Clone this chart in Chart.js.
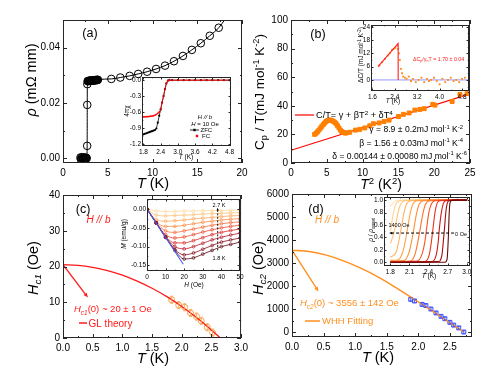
<!DOCTYPE html>
<html>
<head>
<meta charset="utf-8">
<title>Superconducting properties</title>
<script src="https://cdn.jsdelivr.net/npm/chart.js@4.4.1/dist/chart.umd.min.js"></script>
<style>
  body { margin: 0; background: #fff; }
  #fig { position: relative; width: 491px; height: 379px; overflow: hidden; background: #fff; }
  #fig div { position: absolute; }
</style>
</head>
<body>
<div id="fig"></div>
<script>
// ---------- (a) resistivity ----------
const rhoT = [1.95, 2.0, 2.05, 2.1, 2.15, 2.2, 2.25, 2.3, 2.35, 2.4, 2.45, 2.5, 2.55, 2.6, 2.65,
  2.7, 2.71, 2.72,
  2.75, 2.8, 2.85, 2.9, 2.95, 3.0, 3.05, 3.1, 3.15, 3.2, 3.25, 3.3, 3.35, 3.4, 3.45, 3.5, 3.55, 3.6, 3.65, 3.7, 3.75, 3.8, 3.85, 3.9,
  5.4, 6.4, 7.45, 8.4, 9.4, 10.4, 11.4, 12.4, 13.4, 14.4, 15.4, 16.4, 17.4];
const rhoV = [0.0003, -0.0004, 0.0002, -0.0003, 0.0004, -0.0002, 0.0001, -0.0004, 0.0003, -0.0001, 0.0002, -0.0003, 0.0001, 0.0002, 0.0,
  0.0045, 0.0193, 0.0268,
  0.0279, 0.0279, 0.028, 0.028, 0.028, 0.028, 0.028, 0.0281, 0.0281, 0.0281, 0.0281, 0.0281, 0.0282, 0.0282, 0.0282, 0.0282, 0.0282, 0.0282, 0.0283, 0.0283, 0.0283, 0.0283, 0.0283, 0.0284,
  0.0287, 0.0292, 0.0298, 0.0305, 0.0313, 0.0323, 0.0335, 0.0351, 0.037, 0.0392, 0.0416, 0.0443, 0.0472];
const rhoLineEndT = 18.1;
const rhoLineEndV = 0.0502;
const rhoTicksX = [0, 5, 10, 15, 20];
const rhoTicksY = [0, 0.02, 0.04];

// (a) inset: susceptibility
const chiT = [1.8, 1.85, 1.9, 1.95, 2.0, 2.05, 2.1, 2.15, 2.2, 2.25, 2.3, 2.35, 2.4, 2.45, 2.5, 2.55, 2.6, 2.65, 2.7,
  2.8, 3.0, 3.2, 3.4, 3.6, 3.8, 4.0, 4.2, 4.4, 4.6, 4.8];
const chiZfc = [-1.02, -1.01, -1.0, -0.99, -0.98, -0.97, -0.96, -0.95, -0.94, -0.91, -0.8, -0.67, -0.55, -0.42, -0.3, -0.17, -0.06, -0.01, 0,
  0, 0, 0, 0, 0, 0, 0, 0, 0, 0, 0];
const chiFc = [-0.69, -0.69, -0.688, -0.686, -0.684, -0.68, -0.675, -0.67, -0.66, -0.645, -0.625, -0.6, -0.55, -0.42, -0.3, -0.17, -0.06, -0.01, 0,
  0, 0, 0, 0, 0, 0, 0, 0, 0, 0, 0];
const chiTicksX = [1.8, 2.4, 3.0, 3.6, 4.2, 4.8];
const chiTicksY = [-1.2, -0.9, -0.6, -0.3, 0.0];

// ---------- (b) specific heat ----------
const cpT2 = [3.3, 3.5, 3.7, 3.9, 4.1, 4.3, 4.5, 4.7, 4.9, 5.1, 5.3, 5.5, 5.7, 5.9, 6.1, 6.3, 6.5, 6.7, 6.9, 7.1, 7.3, 7.5, 7.7,
  8.2, 9.0, 9.6, 10.3, 11.0, 11.5, 12.3, 13.0, 13.7, 15.0, 15.7, 16.5, 17.3, 18.0, 18.6, 19.8, 20.1, 22.5, 23.6, 24.6];
const cpV = [20, 20.8, 21.8, 23, 24.3, 25.6, 26.8, 28, 29, 29.7, 30, 30, 29.7, 29.2, 28.5, 27.5, 26, 24.5, 23, 22, 21.3, 21, 21,
  21.5, 23, 23.5, 24.5, 26, 27.5, 28, 29, 30, 32.5, 34, 35, 37, 37.5, 38, 41, 40.5, 43, 48, 48.5];
const cpFitT2 = [0, 25];
const cpFitV = [8.9, 48.3];
const cpTicksX = [0, 5, 10, 15, 20, 25];
const cpTicksY = [0, 20, 40, 60, 80, 100];

// (b) inset: electronic jump
const dcT = [1.85, 1.95, 2.05, 2.15, 2.22, 2.3, 2.36, 2.42, 2.48, 2.52, 2.55, 2.58, 2.62, 2.66, 2.7, 2.76, 2.82, 2.9, 2.98, 3.05,
  3.15, 3.25, 3.35, 3.45, 3.55, 3.62, 3.7, 3.8, 3.9, 4.0, 4.1, 4.2, 4.3, 4.4, 4.5, 4.6, 4.7, 4.8, 4.9];
const dcV = [6.5, 8, 9.5, 11, 12, 13.5, 14, 14.5, 15.5, 14, 12, 9, 5, 3, 1.5, 1, 0.5, 1.5, -0.5, 0.5,
  -1, 0, 1, -1, 0.5, -0.5, 0, 1, -0.5, -2, 0.5, -1, 0, 1, -0.5, 0, -1, 0.5, 1];
const dcFitT = [1.8, 2.52, 2.52];
const dcFitV = [6, 16.5, 0];
const dcZeroT = [1.55, 5.05];
const dcZeroV = [0, 0];
const dcTicksX = [1.6, 2.4, 3.2, 4.0, 4.8];
const dcTicksY = [0, 6, 12, 18, 24];

// ---------- (c) lower critical field ----------
const glT = [0, 0.25, 0.5, 0.75, 1.0, 1.25, 1.5, 1.75, 2.0, 2.25, 2.5, 2.65];
const glV = [20.5, 20.32, 19.77, 18.86, 17.58, 15.93, 13.93, 11.56, 8.82, 5.72, 2.26, 0];
const hc1T = [1.83, 1.95, 2.05, 2.15, 2.25, 2.33, 2.43, 2.52];
const hc1V = [10.7, 9.2, 8.6, 7.0, 6.0, 4.8, 3.0, 1.5];
const hc1E = [1, 1, 1, 1, 1, 1, 1, 1];
const hc1TicksX = [0, 0.5, 1.0, 1.5, 2.0, 2.5, 3.0];
const hc1TicksY = [0, 10, 20, 30, 40];

// (c) inset: M(H) isotherms 1.8 K ... 2.7 K
const mH = [0, 5, 10, 15, 20, 25, 30, 35, 40, 45, 50];
const mCurves = [
  [0, -0.037, -0.075, -0.11, -0.133, -0.13, -0.12, -0.11, -0.1, -0.094, -0.088],
  [0, -0.037, -0.075, -0.108, -0.122, -0.117, -0.107, -0.097, -0.088, -0.082, -0.077],
  [0, -0.037, -0.075, -0.1, -0.106, -0.1, -0.091, -0.082, -0.075, -0.069, -0.064],
  [0, -0.037, -0.073, -0.09, -0.09, -0.084, -0.076, -0.068, -0.062, -0.057, -0.053],
  [0, -0.037, -0.068, -0.077, -0.074, -0.068, -0.061, -0.055, -0.05, -0.046, -0.043],
  [0, -0.036, -0.058, -0.062, -0.058, -0.053, -0.048, -0.043, -0.039, -0.036, -0.034],
  [0, -0.034, -0.046, -0.046, -0.043, -0.039, -0.035, -0.032, -0.029, -0.027, -0.025],
  [0, -0.028, -0.032, -0.031, -0.029, -0.026, -0.024, -0.022, -0.02, -0.018, -0.017],
  [0, -0.016, -0.018, -0.017, -0.016, -0.015, -0.013, -0.012, -0.011, -0.01, -0.009],
  [0, -0.005, -0.006, -0.006, -0.005, -0.005, -0.004, -0.004, -0.004, -0.003, -0.003]
];
const mColors = ['#5c0a18', '#8a1020', '#b8182a', '#dc2a2a', '#ef4a30', '#f86c3a', '#fb8c46', '#fca85a', '#fdc276', '#fddba2'];
const mLineH = [0, 19.5];
const mLineV = [0, -0.147];
const mTicksX = [0, 10, 20, 30, 40, 50];
const mTicksY = [-0.15, -0.10, -0.05, 0.00];

// ---------- (d) upper critical field ----------
const whhT = [0, 0.272, 0.544, 0.816, 1.088, 1.36, 1.632, 1.904, 2.176, 2.448, 2.72];
const whhV = [3556, 3503, 3343, 3094, 2774, 2400, 1956, 1476, 996, 498, 0];
const hc2T = [1.88, 1.94, 2.06, 2.12, 2.2, 2.28, 2.36, 2.42, 2.5, 2.56, 2.64, 2.72];
const hc2V = [1420, 1350, 1200, 1150, 1000, 830, 680, 580, 420, 300, 180, 0];
const hc2E = [60, 60, 60, 60, 60, 60, 60, 60, 60, 60, 60, 60];
const hc2TicksX = [0, 0.5, 1.0, 1.5, 2.0, 2.5];
const hc2TicksY = [0, 1000, 2000, 3000, 4000, 5000, 6000];

// (d) inset: rho/rho_onset(T), 1400 Oe ... 0 Oe
const rcT = [
  [1.8, 1.87, 1.95, 3.0],
  [1.8, 1.84, 1.88, 1.95, 2.1, 3.0],
  [1.8, 1.84, 1.88, 1.92, 1.96, 2.03, 2.2, 3.0],
  [1.8, 1.89, 1.93, 1.97, 2.01, 2.05, 2.12, 2.3, 3.0],
  [1.8, 1.92, 1.99, 2.03, 2.07, 2.11, 2.15, 2.22, 2.4, 3.0],
  [1.8, 2.02, 2.09, 2.13, 2.17, 2.21, 2.25, 2.32, 2.5, 3.0],
  [1.8, 2.12, 2.19, 2.23, 2.27, 2.31, 2.35, 2.42, 2.6, 3.0],
  [1.8, 2.22, 2.3, 2.34, 2.37, 2.4, 2.44, 2.5, 2.7, 3.0],
  [1.8, 2.34, 2.41, 2.44, 2.47, 2.5, 2.53, 2.58, 2.75, 3.0],
  [1.8, 2.45, 2.52, 2.55, 2.57, 2.6, 2.63, 2.67, 2.8, 3.0],
  [1.8, 2.55, 2.61, 2.63, 2.65, 2.67, 2.69, 2.72, 2.85, 3.0],
  [1.8, 2.66, 2.69, 2.71, 2.72, 2.73, 2.75, 2.8, 3.0]
];
const rcR = [
  [0.9, 0.98, 1.0, 1.0],
  [0.5, 0.75, 0.92, 0.99, 1.0, 1.0],
  [0.3, 0.42, 0.58, 0.8, 0.93, 0.99, 1.0, 1.0],
  [0.08, 0.16, 0.33, 0.55, 0.78, 0.93, 0.99, 1.0, 1.0],
  [0.03, 0.04, 0.15, 0.32, 0.55, 0.78, 0.93, 0.99, 1.0, 1.0],
  [0.02, 0.03, 0.15, 0.32, 0.55, 0.78, 0.93, 0.99, 1.0, 1.0],
  [0.01, 0.02, 0.14, 0.32, 0.55, 0.78, 0.93, 0.99, 1.0, 1.0],
  [0.01, 0.02, 0.14, 0.32, 0.55, 0.78, 0.93, 0.99, 1.0, 1.0],
  [0, 0.01, 0.12, 0.3, 0.55, 0.8, 0.94, 0.99, 1.0, 1.0],
  [0, 0.01, 0.12, 0.32, 0.55, 0.8, 0.94, 0.99, 1.0, 1.0],
  [0, 0.01, 0.12, 0.32, 0.55, 0.8, 0.94, 0.99, 1.0, 1.0],
  [0, 0, 0.05, 0.4, 0.7, 0.9, 0.99, 1.0, 1.0]
];
const rcColors = ['#ffe2b4', '#ffd396', '#ffc479', '#ffb45e', '#ffa248', '#ff8e36', '#ff7426', '#f85422', '#e8361e', '#d01c18', '#a80c0c', '#640808'];
const rcTicksX = [1.8, 2.1, 2.4, 2.7, 3.0];
const rcTicksY = [0, 0.2, 0.4, 0.6, 0.8, 1.0];

// ---------- helpers ----------
const FF = '"Liberation Sans", Arial, Helvetica, sans-serif';
Chart.defaults.font.family = FF;
Chart.defaults.color = '#000';

const pts = (xs, ys) => xs.map((x, i) => ({ x: x, y: ys[i] }));

// tiny markup: *italic*, _{sub}, ^{sup}
function rich(s) {
  const out = [];
  let cur = '', it = false, i = 0;
  const push = () => { if (cur) out.push([cur, it ? 'i' : '']); cur = ''; };
  while (i < s.length) {
    const c = s[i];
    if ((c === '_' || c === '^') && s[i + 1] === '{') {
      push();
      const j = s.indexOf('}', i);
      out.push([s.slice(i + 2, j), (c === '_' ? 'b' : 'p') + (it ? 'i' : '')]);
      i = j + 1;
      continue;
    }
    if (c === '*') { push(); it = !it; i++; continue; }
    cur += c; i++;
  }
  push();
  return out;
}

function drawText(ctx, n) {
  const size = n.s || 10, parts = rich(n.t);
  const font = f => (f.includes('i') ? 'italic ' : '') + (/[bp]/.test(f) ? size * 0.68 : size) + 'px ' + FF;
  let w = 0;
  parts.forEach(p => { ctx.font = font(p[1]); w += ctx.measureText(p[0]).width; });
  ctx.save();
  ctx.translate(n.x, n.y);
  if (n.r) ctx.rotate(n.r * Math.PI / 180);
  let x = n.a === 'l' ? 0 : n.a === 'r' ? -w : -w / 2;
  ctx.fillStyle = n.c || '#000';
  ctx.textBaseline = 'alphabetic';
  parts.forEach(p => {
    ctx.font = font(p[1]);
    const dy = p[1].includes('b') ? size * 0.22 : p[1].includes('p') ? -size * 0.38 : 0;
    ctx.fillText(p[0], x, size * 0.36 + dy);
    x += ctx.measureText(p[0]).width;
  });
  ctx.restore();
}

function deco(o) {
  return {
    id: 'deco',
    beforeDraw(chart) {
      if (!o.inset) return;
      const a = chart.chartArea, ctx = chart.ctx;
      ctx.save();
      ctx.fillStyle = '#fff';
      ctx.fillRect(a.left, a.top, a.right - a.left, a.bottom - a.top);
      ctx.restore();
    },
    afterDatasetsDraw(chart) {
      const ctx = chart.ctx, sx = chart.scales.x, sy = chart.scales.y, a = chart.chartArea;
      ctx.save();
      ctx.beginPath();
      ctx.rect(a.left, a.top, a.right - a.left, a.bottom - a.top);
      ctx.clip();
      (o.err || []).forEach(e => {
        ctx.strokeStyle = e.c;
        ctx.lineWidth = 0.8;
        e.x.forEach((xv, i) => {
          const px = sx.getPixelForValue(xv);
          const p1 = sy.getPixelForValue(e.y[i] - e.e[i]), p2 = sy.getPixelForValue(e.y[i] + e.e[i]);
          ctx.beginPath();
          ctx.moveTo(px, p1); ctx.lineTo(px, p2);
          ctx.moveTo(px - 1.5, p1); ctx.lineTo(px + 1.5, p1);
          ctx.moveTo(px - 1.5, p2); ctx.lineTo(px + 1.5, p2);
          ctx.stroke();
        });
      });
      (o.arrows || []).forEach(r => {
        const x1 = sx.getPixelForValue(r.x1), y1 = sy.getPixelForValue(r.y1);
        const x2 = sx.getPixelForValue(r.x2), y2 = sy.getPixelForValue(r.y2);
        const ang = Math.atan2(y2 - y1, x2 - x1), h = r.h || 5;
        ctx.strokeStyle = r.c; ctx.fillStyle = r.c; ctx.lineWidth = r.lw || 1.2;
        ctx.setLineDash(r.dash || []);
        ctx.beginPath();
        ctx.moveTo(x1, y1);
        ctx.lineTo(x2 - Math.cos(ang) * h * 0.8, y2 - Math.sin(ang) * h * 0.8);
        ctx.stroke();
        ctx.setLineDash([]);
        ctx.beginPath();
        ctx.moveTo(x2, y2);
        ctx.lineTo(x2 - h * Math.cos(ang - 0.4), y2 - h * Math.sin(ang - 0.4));
        ctx.lineTo(x2 - h * Math.cos(ang + 0.4), y2 - h * Math.sin(ang + 0.4));
        ctx.closePath();
        ctx.fill();
      });
      ctx.restore();
    },
    afterDraw(chart) {
      const ctx = chart.ctx, a = chart.chartArea;
      ctx.save();
      // frame with inward major + minor ticks
      ctx.strokeStyle = '#262626';
      ctx.lineWidth = 1;
      ctx.strokeRect(a.left + 0.5, a.top + 0.5, a.right - a.left - 1, a.bottom - a.top - 1);
      const L = o.inset ? 2.5 : 4;
      ['x', 'y'].forEach(k => {
        const sc = chart.scales[k];
        const major = sc.ticks.map(t => t.value);
        const step = major[1] - major[0];
        const minor = [];
        for (let v = major[0] - step / 2; v <= sc.max + 1e-9; v += step) if (v >= sc.min - 1e-9) minor.push(v);
        [[major, L], [minor, L / 2]].forEach(([vals, len]) => {
          vals.forEach(v => {
            const p = Math.round(sc.getPixelForValue(v)) + 0.5;
            ctx.beginPath();
            if (k === 'x') {
              ctx.moveTo(p, a.bottom); ctx.lineTo(p, a.bottom - len);
              ctx.moveTo(p, a.top); ctx.lineTo(p, a.top + len);
            } else {
              ctx.moveTo(a.left, p); ctx.lineTo(a.left + len, p);
              ctx.moveTo(a.right, p); ctx.lineTo(a.right - len, p);
            }
            ctx.stroke();
          });
        });
      });
      // texts and legend samples, given in page coordinates
      ctx.translate(-o.box[0], -o.box[1]);
      (o.notes || []).forEach(n => {
        if (n.line) {
          ctx.strokeStyle = n.c; ctx.lineWidth = n.lw || 1.5;
          ctx.beginPath(); ctx.moveTo(n.line[0], n.line[1]); ctx.lineTo(n.line[2], n.line[3]); ctx.stroke();
        }
        if (n.dot) {
          ctx.fillStyle = n.c;
          ctx.fillRect(n.dot[0] - 1.2, n.dot[1] - 1.2, 2.4, 2.4);
        }
        if (n.t) drawText(ctx, n);
      });
      ctx.restore();
    }
  };
}

function axis(min, max, ticks, dec, fix, font, pad) {
  return {
    type: 'linear', min: min, max: max,
    afterBuildTicks: s => { s.ticks = ticks.map(v => ({ value: v })); },
    afterFit: s => { if (s.isHorizontal()) s.height = fix; else s.width = fix; },
    grid: { display: false, drawTicks: false },
    border: { display: false },
    ticks: { autoSkip: false, maxRotation: 0, padding: pad, font: { size: font }, color: '#000',
      callback: v => Number(v).toFixed(dec) }
  };
}

function panel(o) {
  const [bl, bt, bw, bh] = o.box, [al, at, ar, ab] = o.area;
  const div = document.createElement('div');
  div.style.left = bl + 'px'; div.style.top = bt + 'px';
  div.style.width = bw + 'px'; div.style.height = bh + 'px';
  const cv = document.createElement('canvas');
  cv.width = bw; cv.height = bh;
  div.appendChild(cv);
  document.getElementById('fig').appendChild(div);
  const tf = o.inset ? 6.5 : 10, tp = o.inset ? 2 : 4;
  return new Chart(cv, {
    type: 'scatter',
    data: { datasets: o.datasets },
    options: {
      responsive: false, animation: false, events: [],
      layout: { padding: { left: 0, top: at - bt, right: bl + bw - ar, bottom: 0 } },
      plugins: { legend: { display: false }, tooltip: { enabled: false } },
      scales: {
        x: axis(o.x[0], o.x[1], o.x[2], o.x[3], bt + bh - ab, tf, tp),
        y: axis(o.y[0], o.y[1], o.y[2], o.y[3], al - bl, tf, tp - 1)
      }
    },
    plugins: [deco(o)]
  });
}

const line = (xs, ys, c, w, extra) => Object.assign({ data: pts(xs, ys), showLine: true, borderColor: c, borderWidth: w,
  pointRadius: 0, clip: 0 }, extra || {});
const marks = (xs, ys, c, style, r, fill, extra) => Object.assign({ data: pts(xs, ys), showLine: false, pointStyle: style,
  pointRadius: r, pointBorderColor: c, pointBackgroundColor: fill, pointBorderWidth: 1, clip: 0 }, extra || {});

// ---------- main panels ----------
panel({
  box: [0, 0, 252, 192], area: [63, 20, 242, 163],
  x: [0, 20, rhoTicksX, 0], y: [-0.0017, 0.05, rhoTicksY, 2],
  datasets: [
    marks(rhoT, rhoV, '#000', 'circle', 3.8, 'rgba(0,0,0,0)'),
    line(rhoT.concat([rhoLineEndT]), rhoV.concat([rhoLineEndV]), '#000', 1, { cubicInterpolationMode: 'monotone' })
  ],
  notes: [
    { t: '*ρ* (mΩ mm)', x: 31, y: 80, s: 14.5, r: -90 },
    { t: '*T* (K)', x: 153, y: 183, s: 14.5 },
    { t: '(a)', x: 90, y: 32, s: 12.5 }
  ]
});

panel({
  box: [245, 0, 246, 192], area: [291, 20, 470, 163],
  x: [0, 25, cpTicksX, 0], y: [0, 100, cpTicksY, 0],
  datasets: [
    marks(cpT2, cpV, '#ff8000', 'rect', 2.8, '#ff8000'),
    line(cpFitT2, cpFitV, '#ff0000', 1.2)
  ],
  notes: [
    { t: 'C_{p} / T(mJ mol^{-1} K^{-2})', x: 259, y: 92, s: 13.5, r: -90 },
    { t: '*T*^{2} (K^{2})', x: 381, y: 184, s: 14 },
    { t: '(b)', x: 318, y: 33, s: 12.5 },
    { line: [295, 115, 314, 115], c: '#ff0000', lw: 1.2 },
    { t: 'C/T= γ + βT^{2} + δT^{4}', x: 316, y: 115, s: 9.2, a: 'l' },
    { t: 'γ = 8.9 ± 0.2mJ mol^{-1} K^{-2}', x: 463, y: 129, s: 8.6, a: 'r' },
    { t: 'β = 1.56 ± 0.03mJ mol^{-1} K^{-4}', x: 463, y: 142.5, s: 8.6, a: 'r' },
    { t: 'δ = 0.00144 ± 0.00080 mJ mol^{-1} K^{-6}', x: 467, y: 155.5, s: 8.6, a: 'r' }
  ]
});

panel({
  box: [0, 185, 252, 194], area: [63, 195, 243, 338],
  x: [0, 3, hc1TicksX, 1], y: [0, 40, hc1TicksY, 0],
  datasets: [
    line(glT, glV, '#ff1a1a', 1.3, { cubicInterpolationMode: 'monotone' }),
    marks(hc1T, hc1V, '#f5a54a', 'circle', 3, 'rgba(0,0,0,0)')
  ],
  err: [{ x: hc1T, y: hc1V, e: hc1E, c: '#f5a54a' }],
  arrows: [{ x1: 0, y1: 20.5, x2: 0.42, y2: 11.3, c: '#ff1a1a', lw: 1.3, h: 5 }],
  notes: [
    { t: '*H_{c1}* (Oe)', x: 33, y: 268, s: 14.5, r: -90 },
    { t: '*T* (K)', x: 153, y: 358, s: 14.5 },
    { t: '(c)', x: 83, y: 208, s: 12.5 },
    { t: '*H // b*', x: 98.5, y: 219, s: 10, c: '#ff1a1a' },
    { t: '*H_{c1}*(0) ~ 20 ± 1 Oe', x: 74, y: 309, s: 9.5, a: 'l', c: '#ff1a1a' },
    { line: [79, 323, 87, 323], c: '#ff1a1a', lw: 1.5 },
    { t: 'GL theory', x: 88.5, y: 323, s: 10, a: 'l', c: '#ff1a1a' }
  ]
});

panel({
  box: [245, 185, 246, 194], area: [292, 193, 472, 337],
  x: [0, 2.85, hc2TicksX, 1], y: [-216, 6000, hc2TicksY, 0],
  datasets: [
    line(whhT, whhV, '#ff8f1f', 1.4, { cubicInterpolationMode: 'monotone' }),
    marks(hc2T, hc2V, '#3a4cff', 'rect', 2.8, 'rgba(0,0,0,0)')
  ],
  err: [{ x: hc2T, y: hc2V, e: hc2E, c: '#3a4cff' }],
  arrows: [{ x1: 0, y1: 3556, x2: 0.42, y2: 1760, c: '#ff8f1f', lw: 1.3, h: 5 }],
  notes: [
    { t: '*H_{c2}* (Oe)', x: 258, y: 268, s: 14.5, r: -90 },
    { t: '*T* (K)', x: 378, y: 357, s: 14.5 },
    { t: '(d)', x: 316, y: 208, s: 12.5 },
    { t: '*H // b*', x: 327, y: 219, s: 10, c: '#ff8f1f' },
    { t: '*H_{c2}*(0) ~ 3556 ± 142 Oe', x: 300, y: 303, s: 9.5, a: 'l', c: '#ff8f1f' },
    { line: [305, 321, 320, 321], c: '#ff8f1f', lw: 1.5 },
    { t: 'WHH Fitting', x: 322, y: 321, s: 9.5, a: 'l', c: '#ff8f1f' }
  ]
});

// ---------- insets ----------
panel({
  inset: true,
  box: [95, 68, 146, 105], area: [142, 77, 231, 146],
  x: [1.75, 4.85, chiTicksX, 1], y: [-1.24, 0.06, chiTicksY, 1],
  datasets: [
    line(chiT, chiFc, '#ff0000', 0.8, { pointRadius: 1.1, pointStyle: 'rect', pointBackgroundColor: '#ff0000', pointBorderColor: '#ff0000', pointBorderWidth: 0 }),
    line(chiT, chiZfc, '#000', 0.8, { pointRadius: 1.1, pointBackgroundColor: '#000', pointBorderColor: '#000', pointBorderWidth: 0 })
  ],
  notes: [
    { t: '4πχ', x: 127, y: 111, s: 6.5, r: -90 },
    { t: '*T* (K)', x: 186, y: 157, s: 6.5 },
    { t: '*H // b*', x: 205, y: 117, s: 6 },
    { t: '*H* = 10 Oe', x: 205, y: 123.5, s: 6 },
    { line: [190, 130, 199, 130], c: '#000', lw: 0.8 },
    { dot: [194.5, 130], c: '#000' },
    { t: 'ZFC', x: 200.5, y: 130, s: 6, a: 'l' },
    { dot: [197, 136], c: '#ff0000' },
    { t: 'FC', x: 202, y: 136, s: 6, a: 'l' }
  ]
});

panel({
  inset: true,
  box: [335, 15, 146, 102], area: [371, 25, 469, 91],
  x: [1.55, 5.05, dcTicksX, 1], y: [-5, 24.8, dcTicksY, 0],
  datasets: [
    line(dcFitT, dcFitV, '#ff2020', 1.1),
    marks(dcT, dcV, '#ff8c1a', 'rect', 1.3, '#ff8c1a', { pointBorderWidth: 0 }),
    line(dcZeroT, dcZeroV, '#8c8cff', 0.9)
  ],
  notes: [
    { t: 'ΔC/T (mJ mol^{-1} K^{-2})', x: 361, y: 55, s: 6.5, r: -90 },
    { t: '*T* (K)', x: 393, y: 101, s: 6.5 },
    { t: 'ΔC_{p}/γ_{n}T = 1.70 ± 0.04', x: 413, y: 59, s: 5.3, a: 'l', c: '#ff2020' }
  ]
});

const mSets = [line(mLineH, mLineV, '#4a62f0', 1.1)];
mCurves.forEach((c, i) => mSets.push(line(mH, c, mColors[i], 0.8,
  { pointRadius: 1.4, pointStyle: 'circle', pointBorderColor: mColors[i], pointBackgroundColor: 'rgba(0,0,0,0)', pointBorderWidth: 0.7, cubicInterpolationMode: 'monotone' })));
panel({
  inset: true,
  box: [105, 190, 142, 108], area: [147, 199, 240, 271],
  x: [0, 50, mTicksX, 0], y: [-0.165, 0.027, mTicksY, 2],
  datasets: mSets,
  arrows: [{ x1: 38, y1: -0.11, x2: 38, y2: 0.004, c: '#000', lw: 0.9, h: 3, dash: [2, 1.5] }],
  notes: [
    { t: '*M* (emu/g)', x: 124, y: 234, s: 6.5, r: -90 },
    { t: '*H* (Oe)', x: 194, y: 285, s: 6.5 },
    { t: '2.7 K', x: 219, y: 205, s: 5.5 },
    { t: '1.8 K', x: 219, y: 258, s: 5.5 }
  ]
});

const rcSets = rcT.map((t, i) => line(t, rcR[i], rcColors[i], 1.1, { cubicInterpolationMode: 'monotone' }));
panel({
  inset: true,
  box: [340, 188, 142, 104], area: [384, 197, 470, 266],
  x: [1.7, 3.05, rcTicksX, 1], y: [-0.06, 1.05, rcTicksY, 1],
  datasets: rcSets.reverse(),
  arrows: [{ x1: 2.8, y1: 0.47, x2: 1.78, y2: 0.47, c: '#000', lw: 1, h: 3.5, dash: [3, 2] }],
  notes: [
    { t: '*ρ* / *ρ*_{onset}', x: 371, y: 230, s: 6.5, r: -90 },
    { t: '*T* (K)', x: 429, y: 276, s: 6.5 },
    { t: '1400 Oe', x: 399, y: 225, s: 5.5 },
    { t: '0 Oe', x: 461, y: 234, s: 5.5 }
  ]
});
</script>
</body>
</html>
